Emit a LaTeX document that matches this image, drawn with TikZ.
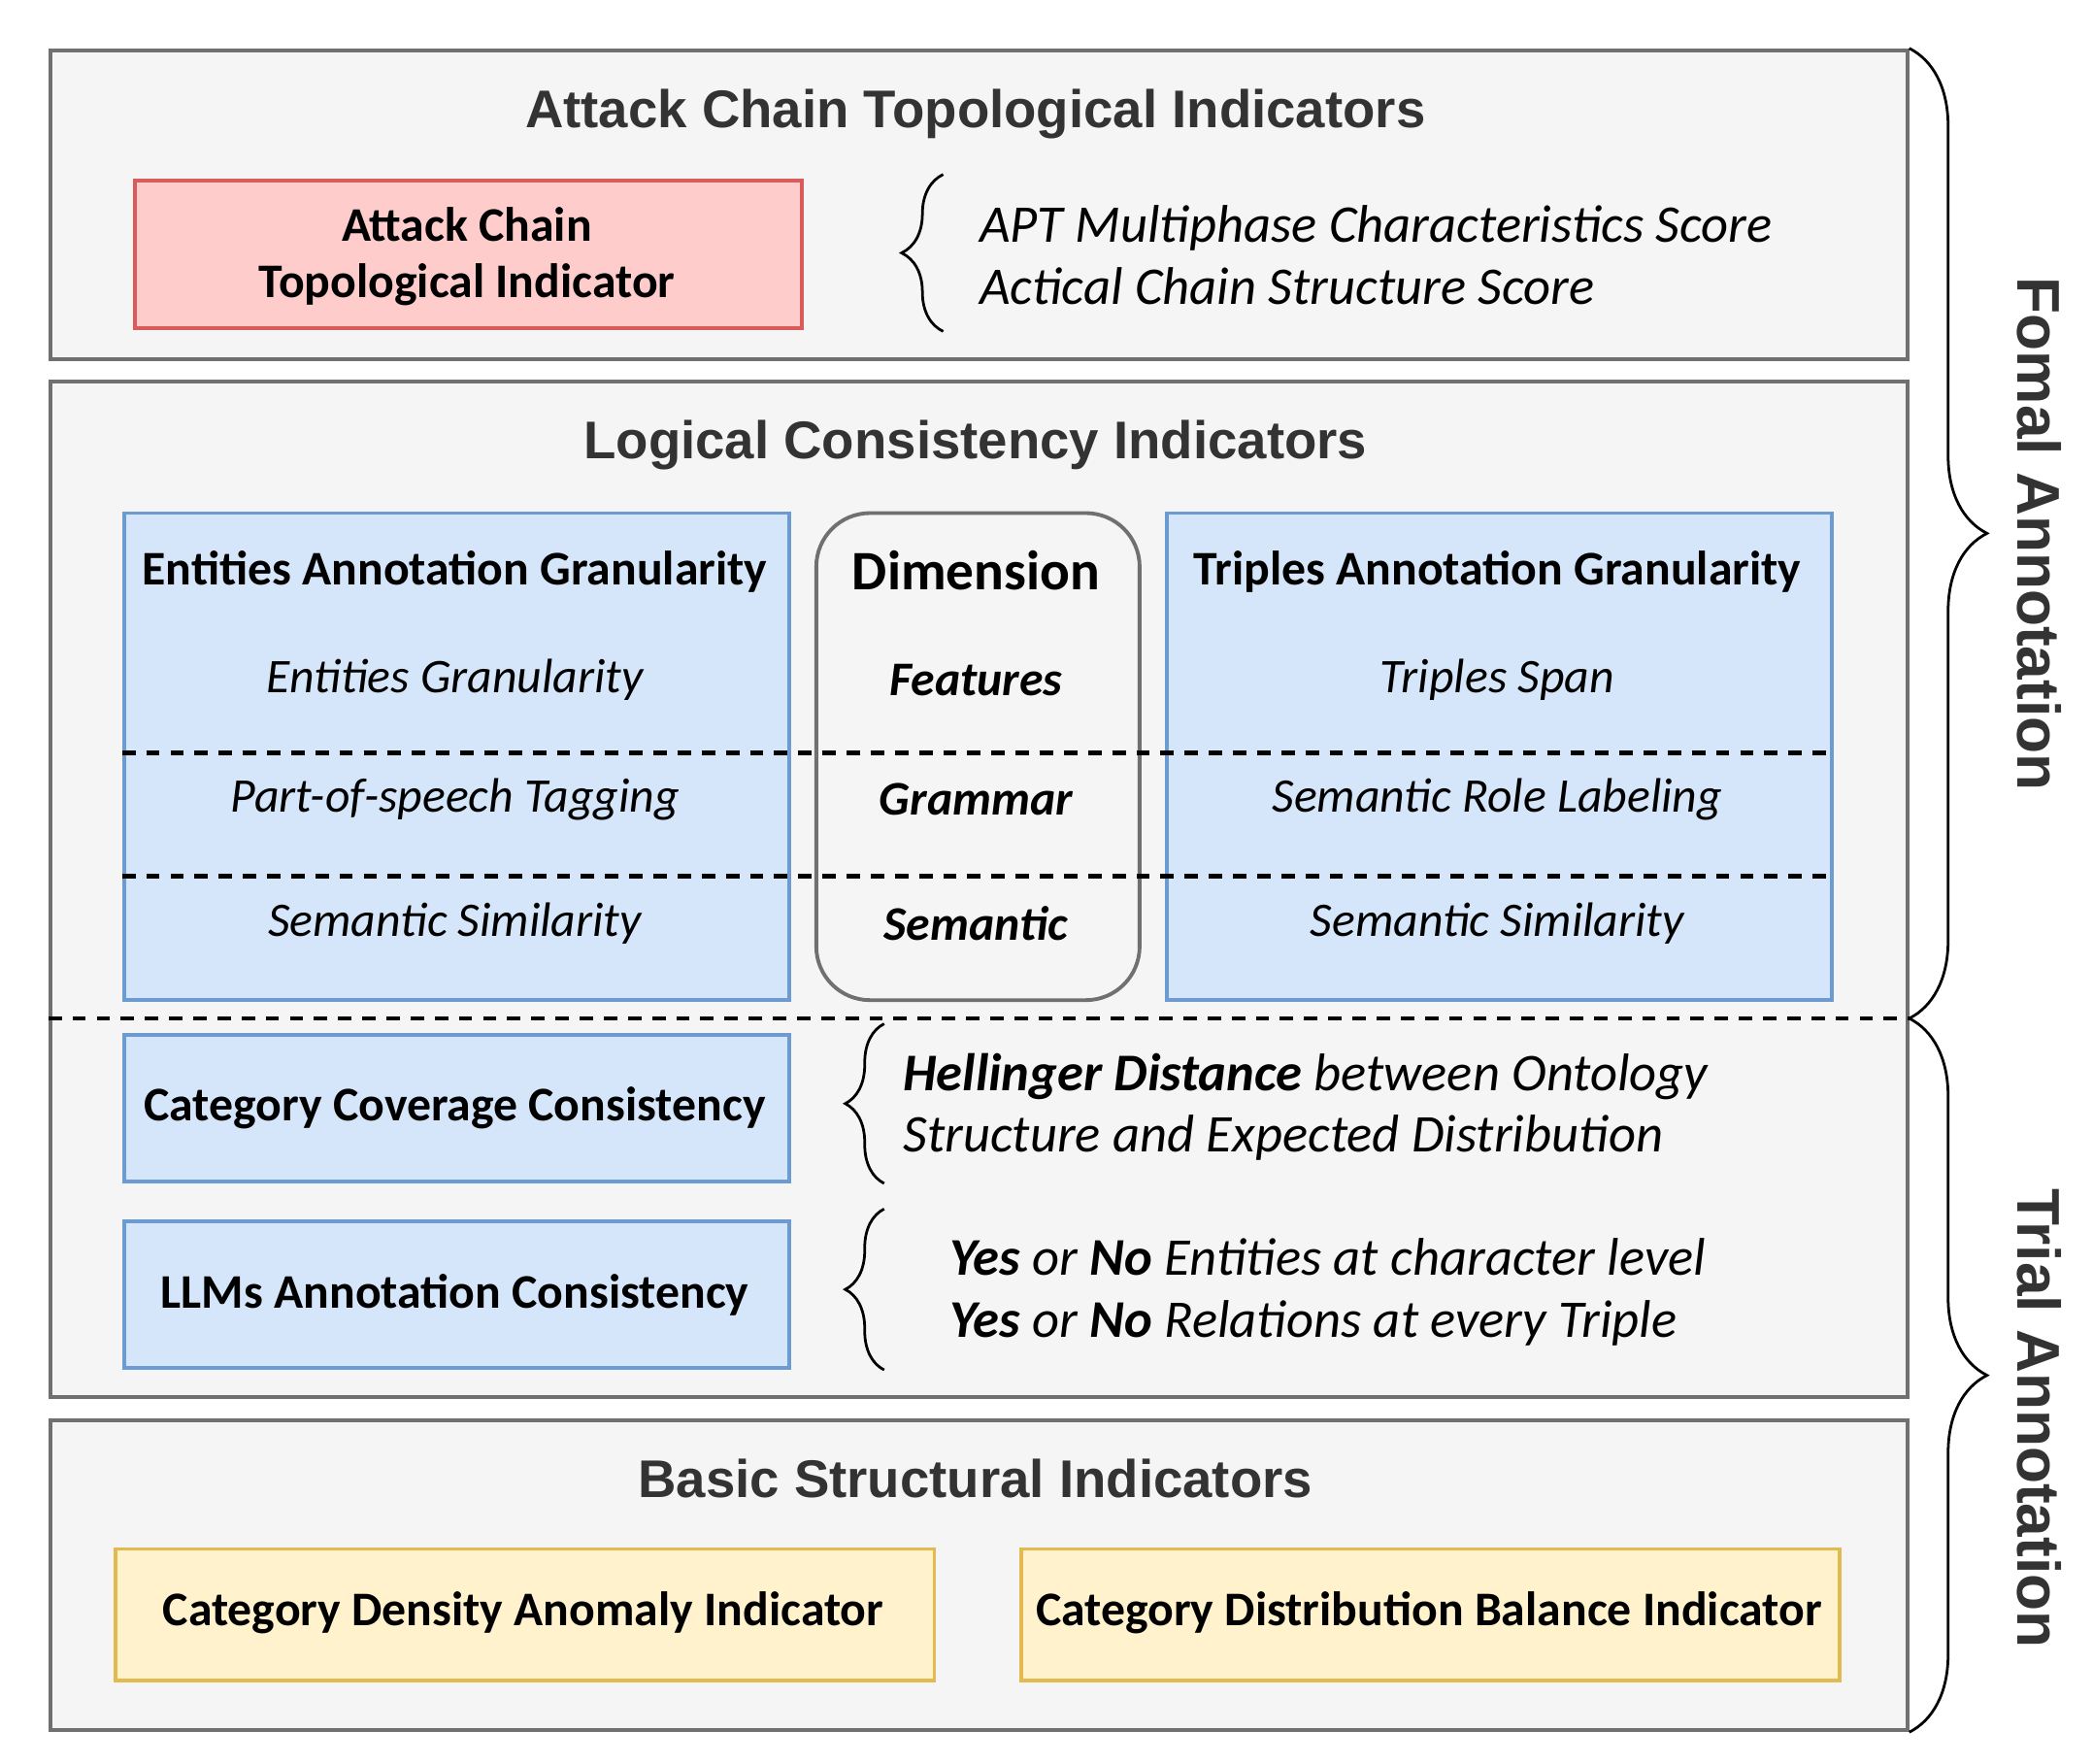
\documentclass[tikz,border=0pt]{standalone}
\usepackage{fontspec}
\setmainfont{Carlito}
\newfontfamily\hfont{Liberation Sans}
\usetikzlibrary{decorations.pathreplacing}
\definecolor{panelbg}{HTML}{F5F5F5}
\definecolor{panelline}{HTML}{707070}
\definecolor{bluefill}{HTML}{D5E6FB}
\definecolor{blueline}{HTML}{6C9BD2}
\definecolor{redfill}{HTML}{FFCCCC}
\definecolor{redline}{HTML}{D95B5B}
\definecolor{yellowfill}{HTML}{FFF2CC}
\definecolor{yellowline}{HTML}{E3BA4F}
\definecolor{titlecol}{HTML}{333333}
\begin{document}
\begin{tikzpicture}[x=1pt,y=-1pt,
  panel/.style={draw=panelline, line width=3pt, fill=panelbg, anchor=north west, inner sep=0pt},
  bluebox/.style={draw=blueline, line width=2.8pt, fill=bluefill, anchor=north west, inner sep=0pt},
  redbox/.style={draw=redline, line width=2.8pt, fill=redfill, anchor=north west, inner sep=0pt},
  yellowbox/.style={draw=yellowline, line width=2.8pt, fill=yellowfill, anchor=north west, inner sep=0pt},
  dimbox/.style={draw=panelline, line width=2.8pt, fill=panelbg, rounded corners=40pt, anchor=north west, inner sep=0pt},
  ptitle/.style={font=\hfont\bfseries\fontsize{39.5}{46}\selectfont, text=titlecol, inner sep=0pt, anchor=base},
  sidelabel/.style={font=\hfont\bfseries\fontsize{45}{52}\selectfont, text=titlecol, rotate=-90, inner sep=0pt},
  btxt/.style={font=\bfseries\fontsize{36}{42}\selectfont, inner sep=0pt, align=center},
  itxt/.style={font=\itshape\fontsize{36}{46}\selectfont, inner sep=0pt},
  sidetxt/.style={font=\itshape\fontsize{39.5}{46}\selectfont, inner sep=0pt, anchor=west, align=left},
  bitxt/.style={font=\bfseries\itshape\fontsize{36}{46}\selectfont, inner sep=0pt},
  sep/.style={dash pattern=on 10pt off 8pt, line width=3.3pt, black},
  brc/.style={decorate, decoration={brace, amplitude=#1}, line width=2pt, black}
]
\useasboundingbox (0,0) rectangle (1560,1314);

% panels
\node[panel, minimum width=1384pt, minimum height=230pt] (p1) at (36,36) {};
\node[panel, minimum width=1384pt, minimum height=757pt] (p2) at (36,283) {};
\node[panel, minimum width=1384pt, minimum height=231pt] (p3) at (36,1057) {};

% titles
\node[ptitle] (t1) at (727,95) {Attack Chain Topological Indicators};
\node[ptitle] (t2) at (727,342) {Logical Consistency Indicators};
\node[ptitle] (t3) at (727,1116) {Basic Structural Indicators};

% top section
\node[redbox, minimum width=497pt, minimum height=110pt] (red) at (99,133) {};
\node[btxt] (redtxt) at (348,191) {Attack Chain\\Topological Indicator};
\coordinate (b1s) at (703,247);
\coordinate (b1e) at (703,130);
\draw[brc=31pt] (b1s) -- (b1e);
\node[sidetxt] (apt) at (730,190) {APT Multiphase Characteristics Score\\Actical Chain Structure Score};

% logical consistency columns
\node[bluebox, minimum width=496pt, minimum height=363pt] (lb) at (91,381) {};
\node[dimbox, minimum width=241pt, minimum height=363pt] (mb) at (607,381) {};
\node[bluebox, minimum width=496pt, minimum height=363pt] (rb) at (868,381) {};

\draw[sep] (lb.west |- 0,561) -- (rb.east |- 0,561);
\draw[sep] (lb.west |- 0,653) -- (rb.east |- 0,653);

\node[btxt] (l0) at (339,426) {Entities Annotation Granularity};
\node[itxt] (l1) at (339,507) {Entities Granularity};
\node[itxt] (l2) at (339,596) {Part-of-speech Tagging};
\node[itxt] (l3) at (339,688) {Semantic Similarity};

\node[font=\bfseries\fontsize{41.5}{46}\selectfont, inner sep=0pt] (m0) at (727.5,425) {Dimension};
\node[bitxt] (m1) at (727.5,507) {Features};
\node[bitxt] (m2) at (727.5,596) {Grammar};
\node[bitxt] (m3) at (727.5,688) {Semantic};

\node[btxt] (r0) at (1116,426) {Triples Annotation Granularity};
\node[itxt] (r1) at (1116,507) {Triples Span};
\node[itxt] (r2) at (1116,596) {Semantic Role Labeling};
\node[itxt] (r3) at (1116,688) {Semantic Similarity};

\draw[sep] (p2.west |- 0,759) -- (p2.east |- 0,759);

% trial part
\node[bluebox, minimum width=496pt, minimum height=109pt] (ccc) at (91,770) {};
\node[btxt] (ccctxt) at (339,826) {Category Coverage Consistency};
\coordinate (b2s) at (659,882);
\coordinate (b2e) at (659,763);
\draw[brc=29pt] (b2s) -- (b2e);
\node[sidetxt] (hel) at (673,825) {{\bfseries Hellinger Distance} between Ontology\\Structure and Expected Distribution};

\node[bluebox, minimum width=496pt, minimum height=109pt] (llm) at (91,909) {};
\node[btxt] (llmtxt) at (339,965) {LLMs Annotation Consistency};
\coordinate (b3s) at (659,1021);
\coordinate (b3e) at (659,901);
\draw[brc=29pt] (b3s) -- (b3e);
\node[sidetxt] (yn) at (708,963) {{\bfseries Yes} or {\bfseries No} Entities at character level\\{\bfseries Yes} or {\bfseries No} Relations at every Triple};

% basic structural
\node[yellowbox, minimum width=610pt, minimum height=98pt] (y1) at (85,1153) {};
\node[btxt] (y1txt) at (390,1202) {Category Density Anomaly Indicator};
\node[yellowbox, minimum width=610pt, minimum height=98pt] (y2) at (760,1153) {};
\node[btxt] (y2txt) at (1065,1202) {Category Distribution Balance Indicator};

% right braces
\draw[brc=58pt] (p1.north east) -- (p2.east |- 0,759);
\draw[brc=58pt] (p2.east |- 0,759) -- (p3.south east);
\node[sidelabel] (fa) at (1520,398) {Fomal Annotation};
\node[sidelabel] (ta) at (1520,1057) {Trial Annotation};
\end{tikzpicture}
\end{document}
